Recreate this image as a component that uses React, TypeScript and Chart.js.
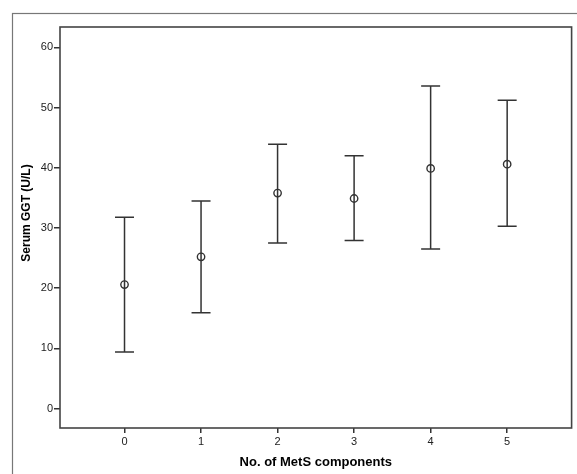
import React, { useEffect, useRef } from "react";
import { Chart, registerables } from "chart.js";

Chart.register(...registerables);

const categories = [0, 1, 2, 3, 4, 5];
const means = [20.6, 25.2, 35.8, 34.9, 39.9, 40.6];
const lowers = [9.4, 15.9, 27.5, 27.9, 26.5, 30.3];
const uppers = [31.8, 34.5, 43.9, 42.0, 53.6, 51.2];
const yTicks = [0, 10, 20, 30, 40, 50, 60];
const xTitle = "No. of MetS components";
const yTitle = "Serum GGT (U/L)";

const FONT = "'Liberation Sans', Arial, sans-serif";

const errorBarPlugin = {
  id: "errorBars",
  beforeDatasetsDraw(chart: any) {
    const { ctx, scales } = chart;
    const xs = scales.x;
    const ys = scales.y;
    ctx.save();
    ctx.strokeStyle = "#333";
    ctx.lineWidth = 1.5;
    categories.forEach((c, i) => {
      const px = xs.getPixelForValue(c);
      const pLo = ys.getPixelForValue(lowers[i]);
      const pHi = ys.getPixelForValue(uppers[i]);
      const half = 9.5;
      ctx.beginPath();
      ctx.moveTo(px, pLo);
      ctx.lineTo(px, pHi);
      ctx.moveTo(px - half, pLo);
      ctx.lineTo(px + half, pLo);
      ctx.moveTo(px - half, pHi);
      ctx.lineTo(px + half, pHi);
      ctx.stroke();
    });
    ctx.restore();
  },
  afterDraw(chart: any) {
    const { ctx, chartArea } = chart;
    ctx.save();
    ctx.strokeStyle = "#444";
    ctx.lineWidth = 1.6;
    ctx.strokeRect(
      chartArea.left,
      chartArea.top,
      chartArea.right - chartArea.left,
      chartArea.bottom - chartArea.top
    );
    ctx.strokeStyle = "#777";
    ctx.lineWidth = 1.2;
    ctx.strokeRect(12.5, 13.5, 700, 700);
    // y axis title, placed as in the reference (slightly above the axis centre)
    ctx.translate(27, 213);
    ctx.rotate(-Math.PI / 2);
    ctx.fillStyle = "#000";
    ctx.font = `bold 12px ${FONT}`;
    ctx.textAlign = "center";
    ctx.textBaseline = "middle";
    ctx.fillText(yTitle, 0, 0);
    ctx.restore();
  },
};

export default function App() {
  const ref = useRef<HTMLCanvasElement>(null);
  useEffect(() => {
    document.body.style.margin = "0";
    const chart = new Chart(ref.current as HTMLCanvasElement, {
      type: "scatter",
      data: {
        datasets: [
          {
            data: categories.map((c, i) => ({ x: c, y: means[i] })),
            pointStyle: "circle",
            pointRadius: 3.7,
            pointBorderWidth: 1.4,
            pointBorderColor: "#333",
            pointBackgroundColor: "rgba(0,0,0,0)",
            showLine: false,
          },
        ],
      },
      options: {
        animation: false,
        responsive: false,
        maintainAspectRatio: false,
        layout: { padding: { left: 0, top: 27, right: 1, bottom: 0 } },
        plugins: {
          legend: { display: false },
          tooltip: { enabled: false },
        },
        scales: {
          x: {
            type: "linear",
            min: -0.843,
            max: 5.842,
            afterBuildTicks: (scale: any) => {
              scale.ticks = categories.map((v) => ({ value: v }));
            },
            afterFit: (scale: any) => {
              scale.height = 46;
            },
            grid: {
              display: true,
              drawOnChartArea: false,
              drawTicks: true,
              tickLength: 5,
              color: "#333",
              lineWidth: 1.5,
            },
            border: { display: false },
            ticks: {
              padding: 2,
              color: "#222",
              font: { family: FONT, size: 11 },
              maxRotation: 0,
              autoSkip: false,
            },
            title: {
              display: true,
              text: xTitle,
              color: "#000",
              font: { family: FONT, size: 13, weight: "bold" },
              padding: { top: 0, bottom: 4 },
            },
          },
          y: {
            type: "linear",
            min: -3.23,
            max: 63.39,
            afterBuildTicks: (scale: any) => {
              scale.ticks = yTicks.map((v) => ({ value: v }));
            },
            afterFit: (scale: any) => {
              scale.width = 60;
            },
            grid: {
              display: true,
              drawOnChartArea: false,
              drawTicks: true,
              tickLength: 6,
              color: "#333",
              lineWidth: 1.5,
            },
            border: { display: false },
            ticks: {
              padding: 1,
              color: "#222",
              font: { family: FONT, size: 11 },
            },
            title: { display: false },
          },
        },
      },
      plugins: [errorBarPlugin],
    });
    return () => chart.destroy();
  }, []);
  return (
    <div style={{ position: "absolute", left: 0, top: 0, width: 577, height: 474 }}>
      <canvas ref={ref} width={577} height={474} style={{ width: 577, height: 474 }} />
    </div>
  );
}
